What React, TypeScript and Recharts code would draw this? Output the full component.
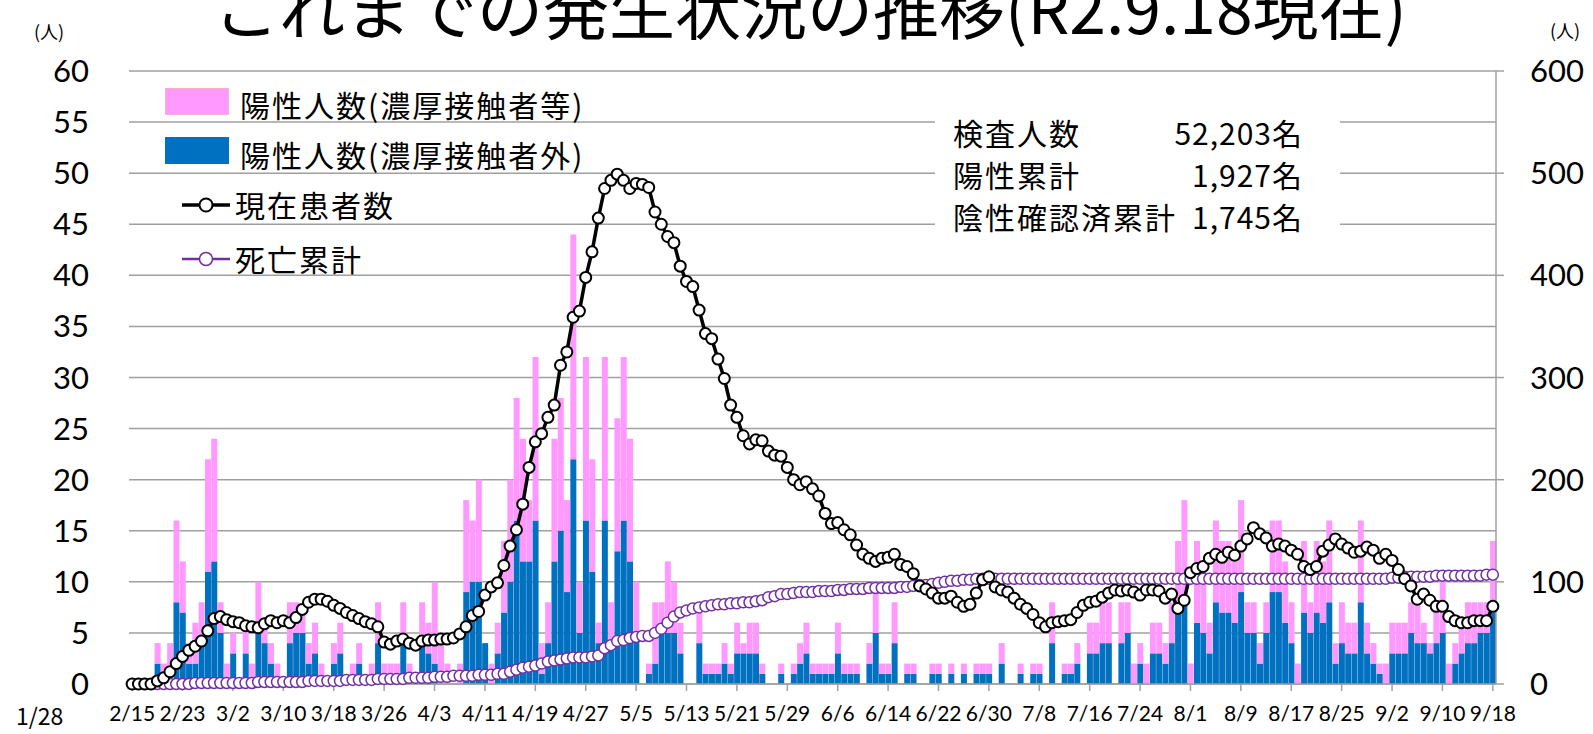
import React from 'react';
import { ComposedChart, Bar, Line, XAxis, YAxis, CartesianGrid } from 'recharts';

// Category span: 2/15 .. 9/18 (daily)
const monthSpans: [number, number, number][] = [
  [2, 15, 29], [3, 1, 31], [4, 1, 30], [5, 1, 31], [6, 1, 30], [7, 1, 31], [8, 1, 31], [9, 1, 18],
];
const dates: string[] = [];
monthSpans.forEach(([m, s, e]) => {
  for (let d = s; d <= e; d++) dates.push(`${m}/${d}`);
});

// 陽性人数（濃厚接触者外） daily
const blueValues = [
  0, 0, 0, 0, 2, 0, 0, 8, 7, 2,
  2, 4, 11, 12, 5, 0, 3, 0, 3, 0,
  6, 4, 2, 0, 0, 4, 5, 5, 2, 3,
  0, 0, 2, 3, 0, 0, 2, 0, 0, 4,
  0, 0, 0, 4, 0, 0, 4, 3, 2, 0,
  0, 0, 0, 9, 10, 10, 4, 0, 3, 7,
  10, 16, 12, 12, 16, 1, 4, 12, 15, 9,
  22, 5, 16, 11, 4, 16, 4, 13, 16, 12,
  5, 0, 1, 2, 5, 5, 5, 3, 0, 0,
  4, 1, 1, 1, 2, 1, 3, 3, 3, 3,
  1, 0, 0, 1, 0, 1, 2, 3, 1, 1,
  1, 1, 3, 1, 1, 1, 0, 2, 5, 1,
  1, 4, 0, 1, 1, 0, 0, 1, 1, 0,
  1, 0, 1, 0, 1, 1, 1, 0, 2, 0,
  0, 1, 0, 1, 1, 0, 4, 0, 1, 1,
  2, 0, 3, 3, 4, 4, 0, 4, 5, 0,
  2, 0, 3, 3, 2, 4, 8, 8, 0, 6,
  5, 3, 8, 7, 7, 6, 9, 5, 5, 2,
  5, 9, 9, 6, 4, 0, 7, 5, 7, 6,
  8, 2, 4, 3, 3, 8, 3, 2, 1, 0,
  3, 3, 3, 5, 4, 4, 3, 4, 5, 0,
  2, 3, 4, 4, 5, 5, 7,
];

// 陽性人数（濃厚接触者等） daily (stacked on top)
const pinkValues = [
  0, 0, 0, 0, 2, 2, 4, 8, 5, 2,
  4, 4, 11, 12, 3, 2, 2, 0, 3, 2,
  4, 2, 2, 2, 0, 4, 3, 2, 2, 3,
  2, 0, 2, 3, 0, 2, 2, 0, 2, 4,
  2, 2, 2, 4, 2, 0, 4, 3, 8, 4,
  2, 0, 2, 9, 6, 10, 0, 2, 3, 7,
  10, 12, 12, 6, 16, 3, 4, 12, 13, 9,
  22, 5, 16, 11, 2, 16, 4, 13, 16, 12,
  5, 0, 1, 6, 3, 7, 5, 3, 0, 0,
  3, 1, 1, 1, 2, 1, 3, 1, 3, 3,
  1, 0, 0, 1, 0, 1, 2, 3, 1, 1,
  1, 1, 3, 1, 1, 1, 0, 2, 5, 1,
  1, 4, 0, 1, 1, 0, 0, 1, 1, 0,
  1, 0, 1, 0, 1, 1, 1, 0, 2, 0,
  0, 1, 0, 1, 1, 0, 4, 0, 1, 1,
  2, 0, 3, 3, 4, 4, 0, 4, 3, 2,
  2, 2, 3, 3, 2, 4, 6, 10, 2, 8,
  6, 3, 8, 7, 7, 6, 9, 3, 3, 2,
  3, 7, 7, 6, 4, 2, 7, 3, 7, 6,
  8, 2, 4, 3, 3, 8, 3, 2, 1, 2,
  3, 3, 3, 3, 4, 2, 1, 4, 5, 2,
  2, 3, 4, 4, 3, 3, 7,
];

// 現在患者数 (right axis)
const currentPatients = [
  0, 0, 0, 0, 3, 6, 12, 20, 27, 33,
  37, 42, 52, 64, 66, 63, 61, 60, 57, 56,
  55, 59, 62, 60, 62, 60, 65, 73, 80, 83,
  83, 81, 77, 74, 70, 67, 64, 61, 59, 56,
  41, 39, 42, 44, 40, 38, 42, 43, 43, 44,
  44, 45, 49, 56, 67, 71, 87, 95, 99, 116,
  135, 151, 176, 212, 237, 245, 261, 273, 312, 325,
  359, 365, 398, 423, 456, 485, 493, 499, 493, 485,
  490, 489, 486, 462, 450, 438, 432, 409, 394, 389,
  366, 343, 338, 318, 299, 273, 261, 243, 235, 239,
  238, 228, 224, 223, 212, 200, 195, 198, 191, 184,
  167, 157, 158, 151, 146, 136, 127, 123, 120, 123,
  124, 127, 117, 115, 108, 96, 93, 89, 84, 84,
  86, 80, 76, 78, 89, 102, 105, 95, 92, 90,
  84, 78, 74, 68, 60, 56, 60, 61, 62, 63,
  70, 77, 80, 81, 85, 89, 92, 91, 92, 90,
  87, 92, 92, 91, 84, 88, 74, 82, 109, 113,
  115, 123, 127, 124, 129, 126, 135, 142, 153, 147,
  143, 135, 137, 135, 131, 127, 115, 112, 115, 130,
  136, 142, 137, 133, 129, 130, 134, 131, 123, 127,
  121, 112, 103, 96, 83, 88, 82, 76, 76, 66,
  62, 60, 60, 62, 62, 62, 76,
];

// 死亡累計 (right axis)
const deathsCumulative = [
  0, 0, 0, 0, 0, 0, 0, 0, 0, 0,
  1, 1, 1, 1, 1, 1, 1, 1, 1, 1,
  2, 2, 2, 2, 2, 2, 2, 2, 3, 3,
  3, 3, 3, 3, 4, 4, 4, 4, 4, 5,
  5, 5, 5, 5, 6, 6, 6, 6, 7, 7,
  7, 8, 8, 8, 8, 9, 9, 9, 10, 10,
  12, 14, 16, 17, 18, 20, 22, 23, 24, 25,
  26, 26, 26, 27, 28, 35, 38, 42, 43, 45,
  46, 47, 47, 50, 54, 60, 66, 70, 72, 74,
  75, 76, 77, 78, 78, 79, 79, 80, 80, 81,
  82, 85, 86, 88, 88, 89, 90, 90, 90, 91,
  91, 91, 92, 92, 93, 93, 93, 94, 94, 94,
  94, 94, 95, 95, 96, 97, 97, 98, 99, 100,
  101, 101, 102, 102, 103, 103, 103, 103, 103, 103,
  103, 103, 103, 103, 103, 103, 103, 103, 103, 103,
  103, 103, 103, 103, 103, 103, 103, 103, 103, 103,
  103, 103, 103, 103, 103, 103, 103, 103, 103, 103,
  103, 103, 103, 103, 103, 103, 103, 103, 103, 103,
  103, 103, 103, 103, 103, 103, 103, 103, 103, 103,
  103, 103, 103, 103, 103, 103, 103, 103, 103, 103,
  104, 104, 105, 105, 105, 105, 105, 106, 106, 106,
  106, 106, 106, 106, 106, 107, 107,
];

const leftTicks = [0, 5, 10, 15, 20, 25, 30, 35, 40, 45, 50, 55, 60];
const rightTicks = [0, 100, 200, 300, 400, 500, 600];

const legendItems = ['陽性人数(濃厚接触者等)', '陽性人数(濃厚接触者外)', '現在患者数', '死亡累計'];
const statLabels = ['検査人数', '陽性累計', '陰性確認済累計'];
const statValues = ['52,203名', '1,927名', '1,745名'];

const data = dates.map((d, i) => ({
  date: d,
  blue: blueValues[i],
  pink: pinkValues[i],
  current: currentPatients[i],
  deaths: deathsCumulative[i],
}));

const JP = '"Noto Sans CJK JP", "Noto Sans", sans-serif';
const NUM = 'Lato, "Open Sans", sans-serif';

const PINK = '#FF99FF';
const BLUE = '#0070C0';
const PURPLE = '#7030A0';
const GRID = '#a0a0a0';

const textRow = (top: number): React.CSSProperties => ({
  position: 'absolute',
  top,
  fontFamily: JP,
  fontSize: 30,
  lineHeight: '40px',
  letterSpacing: 2,
  whiteSpace: 'nowrap',
  color: '#000',
});

export default function App() {
  return (
    <div style={{ position: 'absolute', left: 0, top: 0, width: 1593, height: 734, overflow: 'hidden', background: '#fff' }}>
      <ComposedChart
        width={1593}
        height={734}
        data={data}
        margin={{ top: 71, right: 0, bottom: 0, left: 0 }}
        barCategoryGap="6%"
        barGap={0}
      >
        <CartesianGrid xAxisId="main" yAxisId="L" vertical={false} stroke={GRID} strokeWidth={1.5} />
        <XAxis
          xAxisId="main"
          dataKey="date"
          interval={7}
          height={50}
          tickSize={7}
          tickMargin={15}
          axisLine={{ stroke: GRID, strokeWidth: 1.5 }}
          tickLine={{ stroke: GRID, strokeWidth: 1.5 }}
          tick={{ fontSize: 21, fill: '#000', fontFamily: NUM }}
        />
        <YAxis
          yAxisId="L"
          orientation="left"
          width={129}
          domain={[0, 60]}
          ticks={leftTicks}
          axisLine={false}
          tickLine={false}
          tickSize={0}
          tickMargin={40}
          tick={{ fontSize: 31, fill: '#000', fontFamily: NUM }}
        />
        <YAxis
          yAxisId="R"
          orientation="right"
          width={97}
          domain={[0, 600]}
          ticks={rightTicks}
          axisLine={{ stroke: GRID, strokeWidth: 1.5 }}
          tickLine={{ stroke: GRID, strokeWidth: 1.5 }}
          tickSize={8}
          tickMargin={26}
          tick={{ fontSize: 31, fill: '#000', fontFamily: NUM, textAnchor: 'start' }}
        />
        <Bar xAxisId="main" yAxisId="L" dataKey="blue" stackId="s" fill={BLUE} isAnimationActive={false} />
        <Bar xAxisId="main" yAxisId="L" dataKey="pink" stackId="s" fill={PINK} isAnimationActive={false} />
        <Line
          xAxisId="main"
          yAxisId="R"
          dataKey="deaths"
          type="linear"
          stroke={PURPLE}
          strokeWidth={2}
          dot={{ r: 5.5, fill: '#fff', stroke: PURPLE, strokeWidth: 1.5 }}
          isAnimationActive={false}
        />
        <Line
          xAxisId="main"
          yAxisId="R"
          dataKey="current"
          type="linear"
          stroke="#000"
          strokeWidth={3.5}
          dot={{ r: 5.5, fill: '#fff', stroke: '#000', strokeWidth: 2 }}
          isAnimationActive={false}
        />
      </ComposedChart>

      {/* Title (its top is clipped by the page edge, as in the reference) */}
      <div
        style={{
          position: 'absolute',
          left: 0,
          width: 1620,
          top: -28,
          textAlign: 'center',
          fontFamily: JP,
          fontSize: 66,
          lineHeight: '66px',
          whiteSpace: 'nowrap',
          color: '#000',
        }}
      >
        これまでの発生状況の推移(R2.9.18現在)
      </div>

      {/* axis unit labels */}
      <div style={{ position: 'absolute', left: 34, top: 19, fontFamily: JP, fontSize: 18, lineHeight: '24px', color: '#000' }}>(人)</div>
      <div style={{ position: 'absolute', left: 1550, top: 18, fontFamily: JP, fontSize: 18, lineHeight: '24px', color: '#000' }}>(人)</div>
      <div style={{ position: 'absolute', left: 16, top: 700, fontFamily: JP, fontSize: 23, lineHeight: '30px', color: '#000' }}>1/28</div>

      {/* legend */}
      <div style={{ position: 'absolute', left: 165, top: 88, width: 64, height: 27, background: PINK, boxSizing: 'border-box', border: '1px solid #f7b0c8' }} />
      <div style={{ ...textRow(84), left: 240 }}>{legendItems[0]}</div>
      <div style={{ position: 'absolute', left: 165, top: 137, width: 64, height: 27, background: BLUE }} />
      <div style={{ ...textRow(134), left: 240 }}>{legendItems[1]}</div>
      <svg style={{ position: 'absolute', left: 176, top: 193, overflow: 'visible' }} width={60} height={24}>
        <line x1={6} y1={12} x2={54} y2={12} stroke="#000" strokeWidth={3.5} />
        <circle cx={30} cy={12} r={6.5} fill="#fff" stroke="#000" strokeWidth={2} />
      </svg>
      <div style={{ ...textRow(184), left: 235 }}>{legendItems[2]}</div>
      <svg style={{ position: 'absolute', left: 176, top: 247, overflow: 'visible' }} width={60} height={24}>
        <line x1={6} y1={12} x2={54} y2={12} stroke={PURPLE} strokeWidth={2.5} />
        <circle cx={30} cy={12} r={6.5} fill="#fff" stroke={PURPLE} strokeWidth={1.5} />
      </svg>
      <div style={{ ...textRow(238), left: 235 }}>{legendItems[3]}</div>

      {/* stats box */}
      <div style={{ position: 'absolute', left: 935, top: 80, width: 405, height: 186, background: '#fff' }}>
        {statLabels.map((label, i) => (
          <div key={label} style={{ ...textRow(32 + i * 42), left: 18 }}>{label}</div>
        ))}
        {statValues.map((v, i) => (
          <div key={v} style={{ ...textRow(32 + i * 42), right: 37, letterSpacing: 1 }}>{v}</div>
        ))}
      </div>
    </div>
  );
}
